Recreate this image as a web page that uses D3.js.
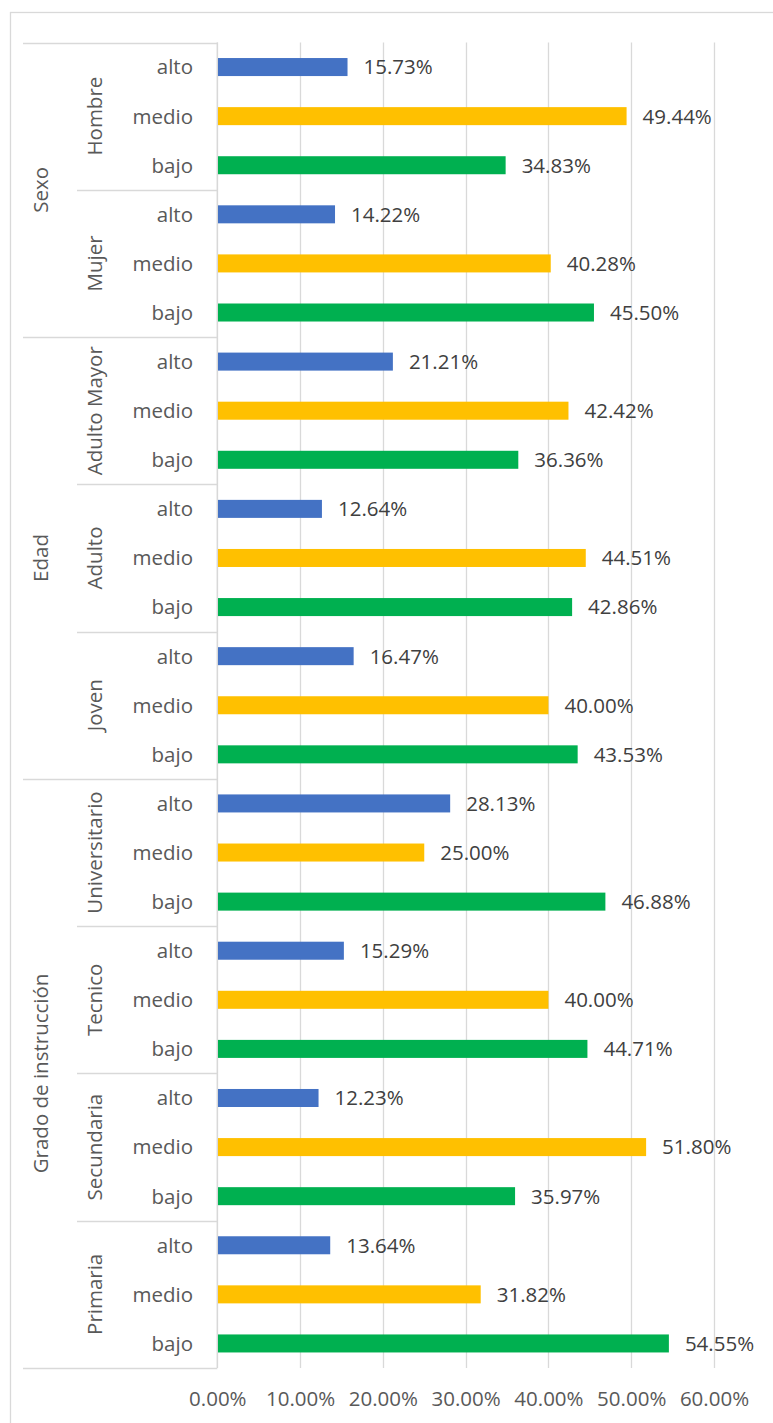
<!DOCTYPE html>
<html>
<head>
<meta charset="utf-8" />
<script src="https://cdn.jsdelivr.net/npm/d3@7"></script>
<title>niveles</title>
<style>
  body { margin: 0; background: #fff; }
  text { font-family: "Open Sans", sans-serif; }
</style>
</head>
<body>
<script>
// categorias del eje (tres niveles)
const groups = ["Sexo", "Edad", "Grado de instrucción"];
const subgroups = [
  ["Hombre", "Mujer"],
  ["Adulto Mayor", "Adulto", "Joven"],
  ["Universitario", "Tecnico", "Secundaria", "Primaria"]
];
const levels = ["alto", "medio", "bajo"];

// porcentajes por subgrupo, en el mismo orden
const alto  = [15.73, 14.22, 21.21, 12.64, 16.47, 28.13, 15.29, 12.23, 13.64];
const medio = [49.44, 40.28, 42.42, 44.51, 40.00, 25.00, 40.00, 51.80, 31.82];
const bajo  = [34.83, 45.50, 36.36, 42.86, 43.53, 46.88, 44.71, 35.97, 54.55];

const xTicks = [0, 0.1, 0.2, 0.3, 0.4, 0.5, 0.6];

const colors = { alto: "#4472C4", medio: "#FFC000", bajo: "#00B050" };
const series = { alto: alto, medio: medio, bajo: bajo };

const W = 773, H = 1423;
const pTop = 42.5, pBottom = 1368, pLeft = 217.3, pRight = 714;
const gridColor = "#d9d9d9", axisText = "#595959", labelText = "#404040";

// filas planas
const rows = [];
let sg = 0;
groups.forEach((g, gi) => {
  subgroups[gi].forEach(s => {
    levels.forEach(l => {
      rows.push({ id: rows.length, group: g, sub: s, level: l, value: series[l][sg] / 100 });
    });
    sg++;
  });
});

const svg = d3.select("body").append("svg")
  .attr("width", W).attr("height", H);

svg.append("rect")
  .attr("x", 10.5).attr("y", 12.5)
  .attr("width", 900).attr("height", 1600)
  .attr("fill", "none").attr("stroke", gridColor).attr("stroke-width", 1.3);

const x = d3.scaleLinear().domain([0, 0.6]).range([pLeft, pRight]);
const y = d3.scaleBand().domain(rows.map(d => d.id)).range([pTop, pBottom])
  .paddingInner(0.633).paddingOuter(0.3165);
const step = y.step();

// rejilla vertical
svg.append("g").selectAll("line").data(xTicks).join("line")
  .attr("x1", d => Math.round(x(d)) + 0.5).attr("x2", d => Math.round(x(d)) + 0.5)
  .attr("y1", pTop).attr("y2", pBottom)
  .attr("stroke", gridColor).attr("stroke-width", 1.3);

// barras
svg.append("g").selectAll("rect").data(rows).join("rect")
  .attr("x", x(0) + 0.7)
  .attr("y", d => y(d.id))
  .attr("width", d => x(d.value) - x(0) - 0.7)
  .attr("height", y.bandwidth())
  .attr("fill", d => colors[d.level]);

// etiquetas de datos
svg.append("g").selectAll("text").data(rows).join("text")
  .attr("x", d => x(d.value) + 16)
  .attr("y", d => y(d.id) + y.bandwidth() / 2)
  .attr("dy", "0.36em")
  .attr("font-size", 20.5)
  .attr("fill", labelText)
  .text(d => d3.format(".2%")(d.value));

// eje x
const xAxis = svg.append("g")
  .attr("transform", `translate(0,${pBottom})`)
  .call(d3.axisBottom(x).tickValues(xTicks).tickFormat(d3.format(".2%")).tickSize(0).tickPadding(23));
xAxis.select(".domain").remove();
xAxis.selectAll("text")
  .attr("font-size", 20.5)
  .attr("font-family", "Open Sans, sans-serif")
  .attr("fill", axisText);

// eje de categorias multinivel
const cat = svg.append("g");
cat.append("line")
  .attr("x1", pLeft).attr("x2", pLeft).attr("y1", pTop).attr("y2", pBottom)
  .attr("stroke", gridColor).attr("stroke-width", 1.3);

cat.selectAll("text.lvl").data(rows).join("text")
  .attr("class", "lvl")
  .attr("x", 193)
  .attr("y", d => y(d.id) + y.bandwidth() / 2)
  .attr("dy", "0.36em")
  .attr("text-anchor", "end")
  .attr("font-size", 20.5)
  .attr("fill", axisText)
  .text(d => d.level);

// subgrupos y grupos
const subs = [];
const grps = [];
let idx = 0;
groups.forEach((g, gi) => {
  const gStart = idx;
  subgroups[gi].forEach((s, si) => {
    subs.push({ name: s, start: idx, end: idx + levels.length, first: si === 0 });
    idx += levels.length;
  });
  grps.push({ name: g, start: gStart, end: idx });
});

const yPos = i => pTop + i * step;

cat.selectAll("text.sub").data(subs).join("text")
  .attr("class", "sub")
  .attr("transform", d => `translate(95,${(yPos(d.start) + yPos(d.end)) / 2}) rotate(-90)`)
  .attr("dy", "0.36em")
  .attr("text-anchor", "middle")
  .attr("font-size", 20.5)
  .attr("fill", axisText)
  .text(d => d.name);

cat.selectAll("line.sub").data(subs.filter(d => !d.first)).join("line")
  .attr("class", "sub")
  .attr("x1", 77).attr("x2", pLeft)
  .attr("y1", d => Math.round(yPos(d.start)) + 0.5).attr("y2", d => Math.round(yPos(d.start)) + 0.5)
  .attr("stroke", gridColor).attr("stroke-width", 1.3);

cat.selectAll("text.grp").data(grps).join("text")
  .attr("class", "grp")
  .attr("transform", d => `translate(41,${(yPos(d.start) + yPos(d.end)) / 2}) rotate(-90)`)
  .attr("dy", "0.36em")
  .attr("text-anchor", "middle")
  .attr("font-size", 20.5)
  .attr("fill", axisText)
  .text(d => d.name);

const grpLines = grps.map(d => d.start).concat([rows.length]);
cat.selectAll("line.grp").data(grpLines).join("line")
  .attr("class", "grp")
  .attr("x1", 23).attr("x2", pLeft)
  .attr("y1", d => Math.round(yPos(d)) + 0.5).attr("y2", d => Math.round(yPos(d)) + 0.5)
  .attr("stroke", gridColor).attr("stroke-width", 1.3);
</script>
</body>
</html>
